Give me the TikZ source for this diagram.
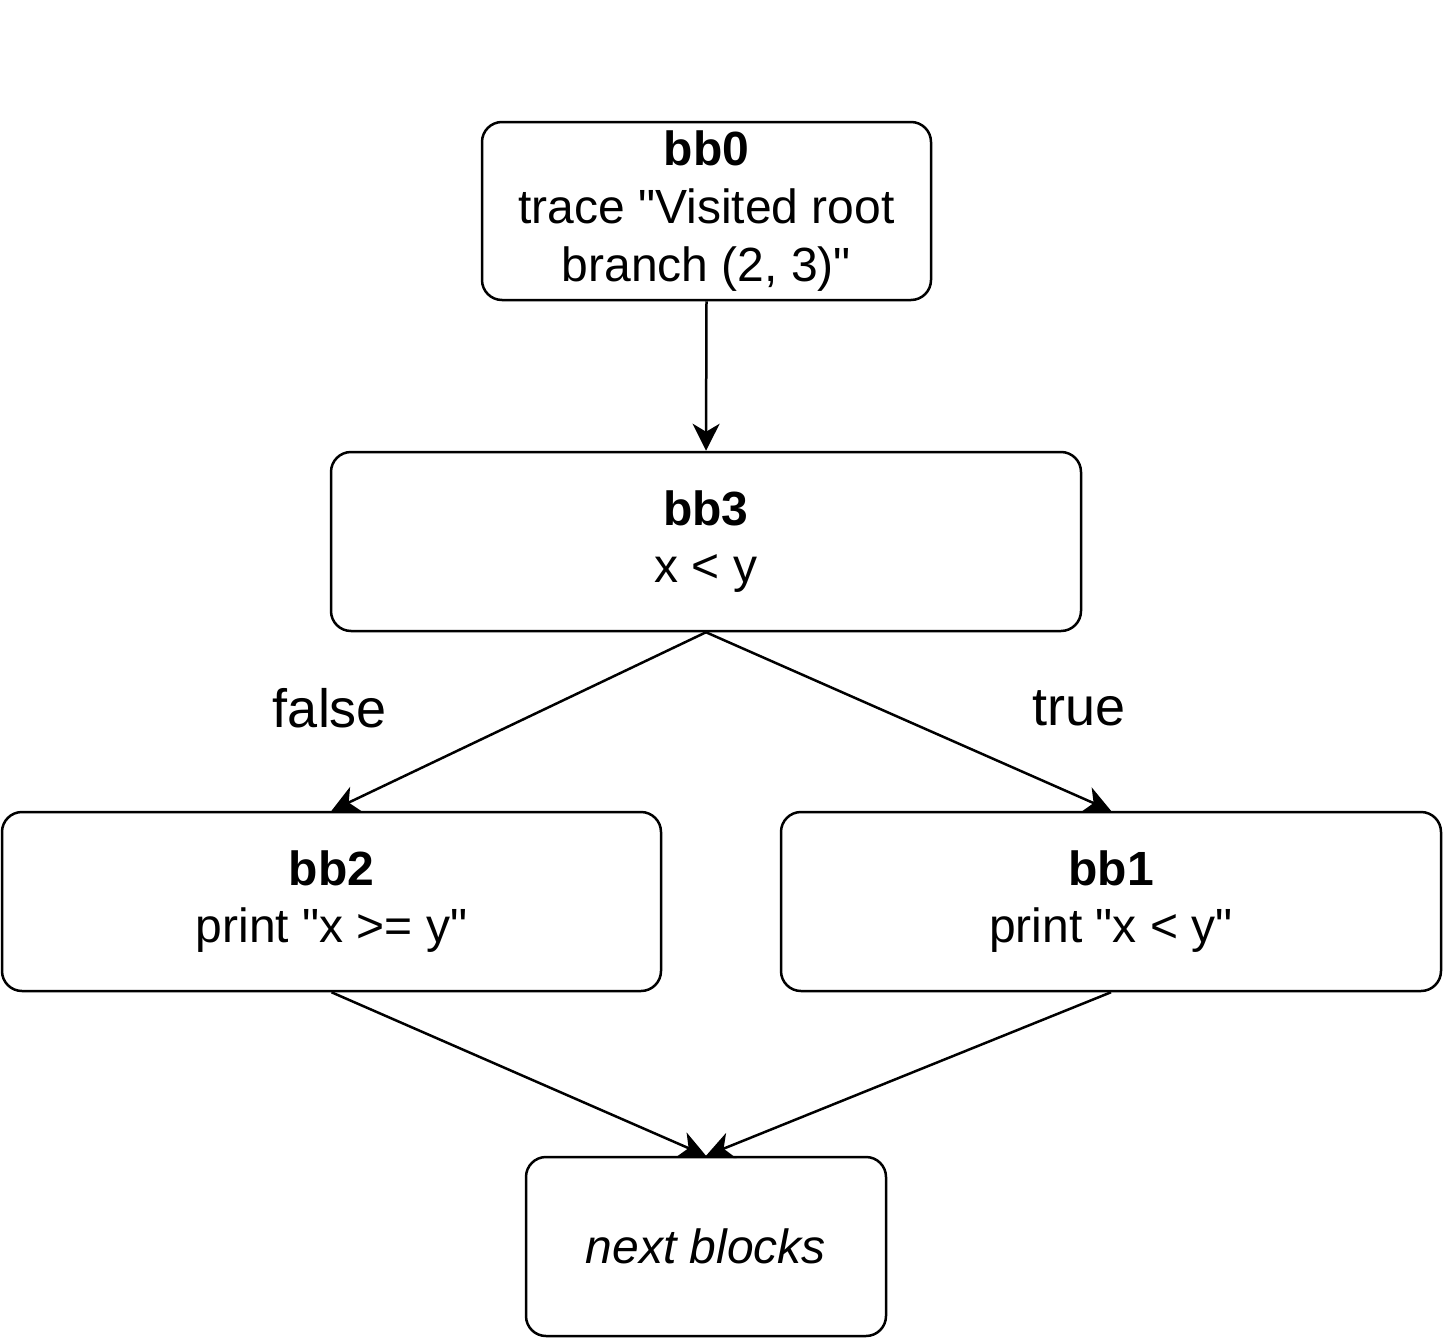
\documentclass[tikz,border=0pt]{standalone}
\usepackage{fontspec}
\setmainfont{Liberation Sans}[Ligatures=TeXOff]
\usetikzlibrary{arrows.meta}
\begin{document}
\begin{tikzpicture}[x=1pt,y=-1pt,
  blk/.style={draw, line width=2.5pt, rounded corners=20pt, align=center, inner sep=0pt, font=\fontsize{48}{57.6}\selectfont},
  edge/.style={line width=2.5pt, -{Stealth[length=27pt,width=27pt,inset=8pt]}},
  lbl/.style={font=\fontsize{54}{64}\selectfont}]
\useasboundingbox (0,0) rectangle (1443,1338);
\node[blk, minimum width=449pt, minimum height=178pt] (bb0) at (706.5,211) {\textbf{bb0}\\trace "Visited root\\branch (2, 3)"};
\node[blk, minimum width=750pt, minimum height=179pt] (bb3) at (706,541.5) {\textbf{bb3}\\x < y};
\node[blk, minimum width=659pt, minimum height=179pt] (bb2) at (331.5,901.5) {\textbf{bb2}\\print "x >= y"};
\node[blk, minimum width=660pt, minimum height=179pt] (bb1) at (1111,901.5) {\textbf{bb1}\\print "x < y"};
\node[blk, minimum width=360pt, minimum height=179pt] (nb) at (706,1246.5) {\textit{next blocks}};
\node[lbl] (lf) at (330,708) {false};
\node[lbl] (lt) at (1079,708) {true};
\draw[edge] (bb0.south) -- (bb3.north);
\draw[edge] (bb3.south) -- (bb2.north);
\draw[edge] (bb3.south) -- (bb1.north);
\draw[edge] (bb2.south) -- (nb.north);
\draw[edge] (bb1.south) -- (nb.north);
\end{tikzpicture}
\end{document}
